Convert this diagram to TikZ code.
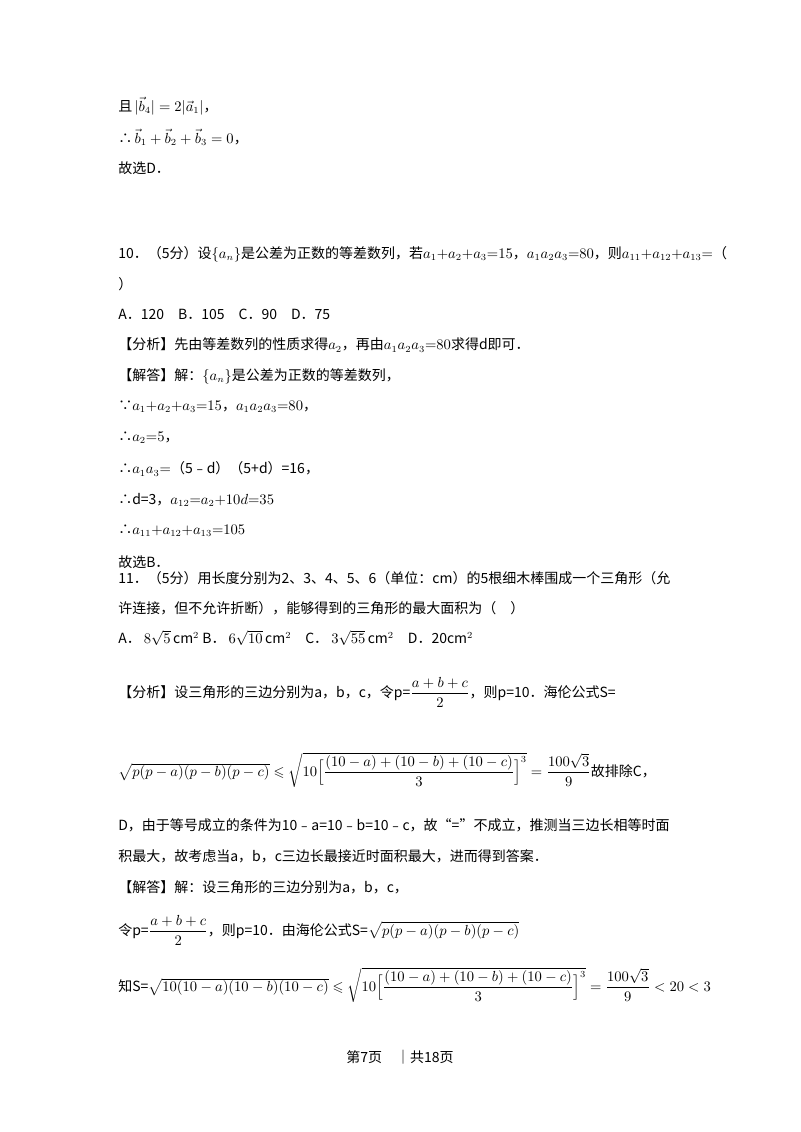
\documentclass[tikz,border=0pt]{standalone}
\usepackage{amsmath,amssymb}
\usepackage{fontspec}
\setmainfont{Noto Sans CJK SC}
\begin{document}
\begin{tikzpicture}[x=0.75pt,y=-0.75pt,
  ln/.style={anchor=west,inner sep=0pt,font=\fontsize{10.5pt}{12pt}\selectfont}]
\useasboundingbox (0,0) rectangle (800,1132);
\fill[white] (0,0) rectangle (800,1132);
\node[ln] (l1) at (118,106) {且\,$|\vec{b}_4|=2|\vec{a}_1|$，};
\node[ln] (l2) at (118,137) {∴\,$\vec{b}_1+\vec{b}_2+\vec{b}_3=0$，};
\node[ln] (l3) at (118,168) {故选D．};
\node[ln] (l4) at (118,254) {10．（5分）设$\{a_n\}$是公差为正数的等差数列，若$a_1{+}a_2{+}a_3{=}15$，$a_1a_2a_3{=}80$，则$a_{11}{+}a_{12}{+}a_{13}{=}$（};
\node[ln] (l5) at (118,284) {）};
\node[ln] (l6) at (118,314) {A．120\quad B．105\quad C．90\quad D．75};
\node[ln] (l7) at (118,345) {【分析】先由等差数列的性质求得$a_2$，再由$a_1a_2a_3{=}80$求得d即可．};
\node[ln] (l8) at (118,376) {【解答】解：$\{a_n\}$是公差为正数的等差数列，};
\node[ln] (l9) at (118,407) {∵$a_1{+}a_2{+}a_3{=}15$，$a_1a_2a_3{=}80$，};
\node[ln] (l10) at (118,438) {∴$a_2{=}5$，};
\node[ln] (l11) at (118,469) {∴$a_1a_3{=}$（5﹣d）（5+d）=16，};
\node[ln] (l12) at (118,500) {∴d=3，$a_{12}{=}a_2{+}10d{=}35$};
\node[ln] (l13) at (118,531) {∴$a_{11}{+}a_{12}{+}a_{13}{=}105$};
\node[ln] (l14) at (118,562) {故选B．};
\node[ln] (l15) at (118,578) {11．（5分）用长度分别为2、3、4、5、6（单位：cm）的5根细木棒围成一个三角形（允};
\node[ln] (l16) at (118,608) {许连接，但不允许折断），能够得到的三角形的最大面积为（\quad ）};
\node[ln] (l17) at (118,638) {A．\ $8\sqrt{5}\,\mathrm{cm}^2$ B．\ $6\sqrt{10}\,\mathrm{cm}^2$\quad C．\ $3\sqrt{55}\,\mathrm{cm}^2$\quad D．20cm$^2$};
\node[ln] (l18) at (118,692) {【分析】设三角形的三边分别为a，b，c，令p=$\dfrac{a+b+c}{2}$，则p=10．海伦公式S=};
\node[ln] (l19) at (118,770) {$\sqrt{p(p-a)(p-b)(p-c)}\leqslant\sqrt{10\Bigl[\dfrac{(10-a)+(10-b)+(10-c)}{3}\Bigr]^{3}}=\dfrac{100\sqrt{3}}{9}$故排除C，};
\node[ln] (l20) at (118,825) {D，由于等号成立的条件为10﹣a=10﹣b=10﹣c，故“=”不成立，推测当三边长相等时面};
\node[ln] (l21) at (118,856) {积最大，故考虑当a，b，c三边长最接近时面积最大，进而得到答案．};
\node[ln] (l22) at (118,887) {【解答】解：设三角形的三边分别为a，b，c，};
\node[ln] (l23) at (118,930) {令p=$\dfrac{a+b+c}{2}$，则p=10．由海伦公式S=$\sqrt{p(p-a)(p-b)(p-c)}$};
\node[ln] (l24) at (118,985) {知S=$\sqrt{10(10-a)(10-b)(10-c)}\leqslant\sqrt{10\Bigl[\dfrac{(10-a)+(10-b)+(10-c)}{3}\Bigr]^{3}}=\dfrac{100\sqrt{3}}{9}<20<3$};
\node[ln,anchor=center] (ft) at (400,1057) {第7页\quad｜共18页};
\end{tikzpicture}
\end{document}
